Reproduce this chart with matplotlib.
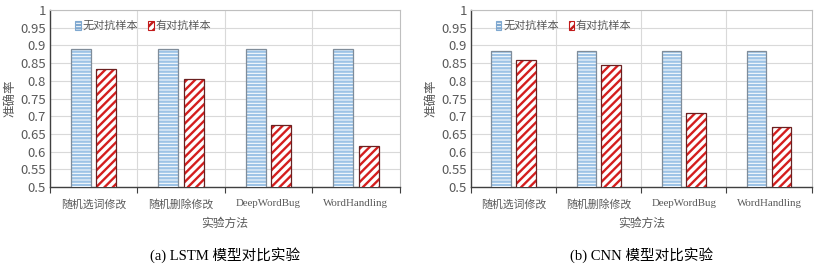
import numpy as np
import matplotlib
matplotlib.use("Agg")
import matplotlib.pyplot as plt
from matplotlib.patches import Patch
from matplotlib.ticker import FixedLocator, NullFormatter

plt.rcParams['font.family'] = ['Noto Sans CJK SC', 'DejaVu Sans']
plt.rcParams['hatch.linewidth'] = 1.7

methods = ["随机选词修改", "随机删除修改", "DeepWordBug", "WordHandling"]
series_names = ["无对抗样本", "有对抗样本"]
lstm_clean = [0.89, 0.89, 0.89, 0.89]
lstm_adv = [0.833, 0.806, 0.674, 0.615]
cnn_clean = [0.885, 0.885, 0.885, 0.885]
cnn_adv = [0.86, 0.845, 0.71, 0.67]
captions = ["(a) LSTM 模型对比实验", "(b) CNN 模型对比实验"]
yticks = [0.5, 0.55, 0.6, 0.65, 0.7, 0.75, 0.8, 0.85, 0.9, 0.95, 1.0]

serif = ['Liberation Serif', 'Noto Sans CJK SC']
tick_grey = "#595959"

fig = plt.figure(figsize=(8.19, 2.71), dpi=100)
ax_a = fig.add_axes([0.061, 0.31, 0.427, 0.653])
ax_b = fig.add_axes([0.575, 0.31, 0.416, 0.653])

def draw(ax, clean, adv, caption):
    x = np.arange(len(methods))
    w = 0.23
    off = 0.145
    # blue bars: light blue horizontal hatch with a grey outline on top
    ax.bar(x - off, clean, w, color="white", edgecolor="#9dc3e6",
           hatch="-----", linewidth=0, zorder=3)
    ax.bar(x - off, clean, w, fill=False, edgecolor="#7f8c99", linewidth=0.9, zorder=4)
    # red bars: red diagonal hatch with a dark outline
    ax.bar(x + off, adv, w, color="white", edgecolor="#d41e1e",
           hatch="////", linewidth=0, zorder=3)
    ax.bar(x + off, adv, w, fill=False, edgecolor="#6b2020", linewidth=0.9, zorder=4)

    ax.set_xlim(-0.5, len(methods) - 0.5)
    ax.set_ylim(0.5, 1.0)
    ax.set_yticks(yticks)
    ax.set_yticklabels([("%.2f" % v).rstrip("0").rstrip(".") for v in yticks])
    ax.tick_params(axis='y', length=0, labelsize=9.5, labelcolor=tick_grey, pad=3)
    ax.set_xticks(x)
    ax.set_xticklabels(methods, family=serif, fontsize=7.8, color=tick_grey)
    ax.tick_params(axis='x', which='major', length=0, pad=9)
    ax.xaxis.set_minor_locator(FixedLocator(np.arange(-0.5, len(methods), 1.0)))
    ax.xaxis.set_minor_formatter(NullFormatter())
    ax.tick_params(axis='x', which='minor', length=4, color="#404040", width=0.8)

    ax.grid(axis='y', color="#d9d9d9", linewidth=0.8, zorder=0)
    for b in np.arange(0.5, len(methods) - 1, 1.0):
        ax.axvline(b, color="#d9d9d9", linewidth=0.8, zorder=0)
    ax.set_axisbelow(True)

    for s in ['left', 'bottom']:
        ax.spines[s].set_color("#404040")
        ax.spines[s].set_linewidth(1.0)
    for s in ['top', 'right']:
        ax.spines[s].set_color("#bfbfbf")
        ax.spines[s].set_linewidth(0.8)

    ax.set_ylabel("准确率", fontsize=9, color=tick_grey, labelpad=3)
    ax.set_xlabel("实验方法", fontsize=8.5, color=tick_grey, labelpad=5)

    handles = [Patch(facecolor="white", edgecolor="#7fa8d0", hatch="-----", linewidth=0.8),
               Patch(facecolor="white", edgecolor="#c21a1a", hatch="////", linewidth=0.8)]
    ax.legend(handles, series_names, ncol=2, loc='upper left', bbox_to_anchor=(0.06, 0.965),
              frameon=False, fontsize=8, labelcolor=tick_grey, handlelength=0.5,
              handleheight=0.8, handletextpad=0.15, columnspacing=0.9, borderaxespad=0)

    bb = ax.get_position()
    fig.text((bb.x0 + bb.x1) / 2, 1 - 255 / 271, caption, ha='center', va='center',
             family=serif, fontsize=10.5, color="black")

draw(ax_a, lstm_clean, lstm_adv, captions[0])
draw(ax_b, cnn_clean, cnn_adv, captions[1])

fig.savefig("out.png", dpi=100)
